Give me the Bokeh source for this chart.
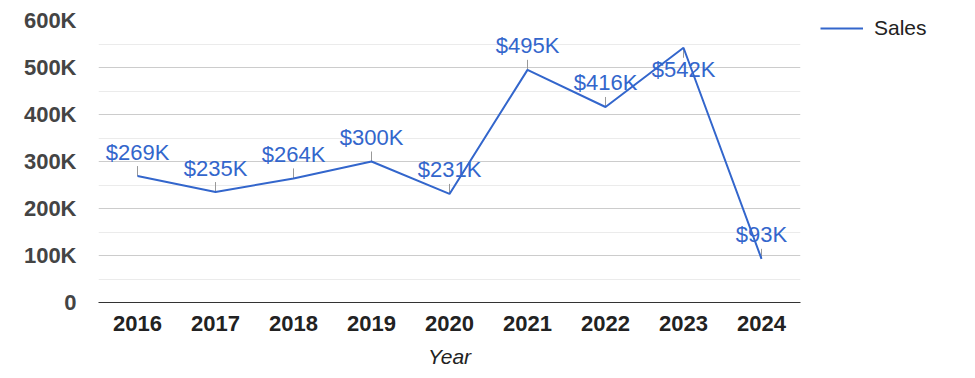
from bokeh.plotting import figure
from bokeh.models import ColumnDataSource, FactorRange, Range1d, FixedTicker, Legend, LegendItem
from bokeh.core.properties import value
from bokeh.embed import file_html
from bokeh.resources import INLINE

years = ["2016", "2017", "2018", "2019", "2020", "2021", "2022", "2023", "2024"]
sales = [269000, 235000, 264000, 300000, 231000, 495000, 416000, 542000, 93000]
labels = ["$269K", "$235K", "$264K", "$300K", "$231K", "$495K", "$416K", "$542K", "$93K"]
label_below = [False, False, False, False, False, False, False, True, False]
y_ticks = [0, 100000, 200000, 300000, 400000, 500000, 600000]
y_minor = [50000, 150000, 250000, 350000, 450000, 550000]
y_tick_labels = ["0", "100K", "200K", "300K", "400K", "500K", "600K"]

FRAME_H = 282
Y_MAX = 600000
px = Y_MAX / FRAME_H
STEM_PX = 10

stem_end = [v - STEM_PX * px if b else v + STEM_PX * px for v, b in zip(sales, label_below)]
yoff = [22 if b else -24 for b in label_below]

src = ColumnDataSource(dict(x=years, y=sales, y1=stem_end, label=labels, yoff=yoff))

p = figure(x_range=FactorRange(*years, range_padding=0), y_range=Range1d(0, Y_MAX),
           frame_width=702, frame_height=FRAME_H, min_border_left=98, min_border_top=20,
           min_border_bottom=10, min_border_right=10,
           output_backend="svg", toolbar_location=None)
p.outline_line_color = None
p.background_fill_color = "white"
p.border_fill_color = "white"

p.yaxis.ticker = FixedTicker(ticks=y_ticks, minor_ticks=y_minor)
p.yaxis.major_label_overrides = {t: l for t, l in zip(y_ticks, y_tick_labels)}
p.yaxis.axis_line_color = None
p.yaxis.major_tick_line_color = None
p.yaxis.minor_tick_line_color = None
p.yaxis.major_label_standoff = 16
p.yaxis.major_label_text_font = "Liberation Sans"
p.yaxis.major_label_text_font_style = "bold"
p.yaxis.major_label_text_font_size = "22px"
p.yaxis.major_label_text_color = "#444444"

p.xaxis.axis_line_color = "#333333"
p.xaxis.axis_line_width = 1
p.xaxis.major_tick_line_color = None
p.xaxis.minor_tick_line_color = None
p.xaxis.major_label_standoff = 7
p.xaxis.major_label_text_font = "Liberation Sans"
p.xaxis.major_label_text_font_style = "bold"
p.xaxis.major_label_text_font_size = "22px"
p.xaxis.major_label_text_color = "#222222"
p.xaxis.axis_label = "Year"
p.xaxis.axis_label_standoff = 11
p.xaxis.axis_label_text_font = "Liberation Sans"
p.xaxis.axis_label_text_font_style = "italic"
p.xaxis.axis_label_text_font_size = "21px"
p.xaxis.axis_label_text_color = "#222222"

p.xgrid.grid_line_color = None
p.ygrid.grid_line_color = "#cccccc"
p.ygrid.minor_grid_line_color = "#ebebeb"

p.segment(x0="x", y0="y", x1="x", y1="y1", source=src, line_color="#999999", line_width=1)
line = p.line(x="x", y="y", source=src, line_color="#3366cc", line_width=2)
p.text(x="x", y="y", text="label", y_offset="yoff", source=src, text_align="center",
       text_baseline="alphabetic", text_font=value("Liberation Sans"), text_font_size="22px",
       text_color="#3366cc")

legend = Legend(items=[LegendItem(label="Sales", renderers=[line])], location=(20, 262),
                border_line_color=None, background_fill_alpha=0, margin=0, padding=0,
                glyph_width=43, glyph_height=20, label_standoff=11,
                label_text_font="Liberation Sans", label_text_font_size="21px",
                label_text_color="#222222")
p.add_layout(legend, "right")

open("out.html", "w").write(file_html(p, INLINE))
